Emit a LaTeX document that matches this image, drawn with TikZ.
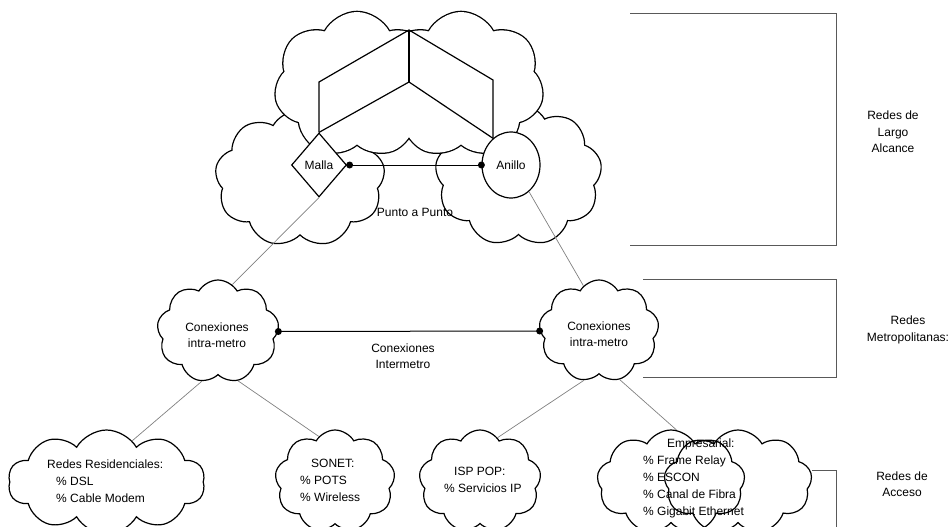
\documentclass[tikz,border=0pt]{standalone}
\usepackage{fontspec}
\setmainfont{Liberation Sans}
\usetikzlibrary{shapes.symbols,shapes.geometric}
\begin{document}
\begin{tikzpicture}[x=1pt,y=-1pt,
  every node/.style={font=\fontsize{12}{16.5}\selectfont, inner sep=0pt},
  puff/.style={cloud, cloud puffs=#1, cloud puff arc=120, cloud ignores aspect,
               draw=black, line width=1.2pt, fill=white},
  puff/.default=9,
  backbone/.style={cloud, cloud puffs=7, cloud puff arc=125, cloud ignores aspect,
                   minimum width=165, minimum height=146},
  cube/.style={black, line width=1.2pt},
  link/.style={black, line width=1pt},
  feeder/.style={gray, line width=0.7pt},
  dot/.style={circle, fill=black, minimum size=7pt},
  bracket/.style={black!65, line width=0.9pt},
  itemlist/.style={align=left, anchor=north west, font=\fontsize{12}{17}\selectfont}
]
\path[use as bounding box] (0,0) rectangle (951,527);
\clip (0,0) rectangle (951,527);

% metropolitan clouds holding the two core topologies
\node[puff, minimum width=170, minimum height=137] (midL) at (300,178.5) {};
\node[puff, minimum width=167, minimum height=142] (midR) at (518.5,175) {};

% twin backbone cloud: thick outlines first, then a white fill keeps only the outer contour
\node[backbone, draw=black, line width=2.6pt] (topL) at (357,85) {};
\node[backbone, draw=black, line width=2.6pt] (topR) at (461,85) {};
\node[backbone, fill=white] (topLf) at (357,85) {};
\node[backbone, fill=white] (topRf) at (461,85) {};

% mesh and ring
\node[diamond, draw, line width=1.2pt, fill=white, minimum width=55, minimum height=64] (malla) at (319,165) {Malla};
\node[ellipse, draw, line width=1.2pt, fill=white, minimum width=58, minimum height=66] (anillo) at (511,165) {Anillo};

% cube-like backbone outline
\coordinate (cT) at (409,30);
\coordinate (cL) at (319,82);
\coordinate (cC) at (409,82);
\coordinate (cR) at (493,80);
\draw[cube] (malla.north) -- (cL) -- (cT) -- (cR) -- (anillo.124);
\draw[cube] (cT) -- (cC);
\draw[cube] (malla.north) -- (cC) -- (anillo.124);

% point-to-point link
\draw[link] (malla.east) -- (anillo.west);
\node[dot] (dM) at ([xshift=2.5pt]malla.east) {};
\node[dot] (dA) at (anillo.west) {};
\node (ptp) at (415,212) {Punto a Punto};

% intra-metro clouds
\node[puff, minimum width=122, minimum height=103] (intraL) at (218,331.5) {};
\node[puff, minimum width=120, minimum height=102] (intraR) at (599,331) {};
\node[align=center] (intraLt) at (217,335) {Conexiones\\intra-metro};
\node[align=center] (intraRt) at (599,334) {Conexiones\\intra-metro};

% inter-metro link
\draw[link] (intraL.east) -- (intraR.west);
\node[dot] (dIL) at (intraL.east) {};
\node[dot] (dIR) at (intraR.west) {};
\node[align=center] (intermetro) at (403,356) {Conexiones\\Intermetro};

% access clouds
\node[puff=10, minimum width=197, minimum height=104] (res) at (106.5,482) {};
\node[puff, minimum width=120, minimum height=102] (sonet) at (335,481) {};
\node[puff, minimum width=122, minimum height=102] (isp) at (480,481) {};
\node[puff, fill=none, minimum width=148, minimum height=104] (empL) at (671,482) {};
\node[puff, fill=none, minimum width=148, minimum height=104] (empR) at (738,482) {};

\node[itemlist] (rest) at (47,459.5) {Redes Residenciales:\\\hspace*{9pt}\% DSL\\\hspace*{9pt}\% Cable Modem};
\node[itemlist] (sonett) at (300,458.5) {\hspace*{11pt}SONET:\\\% POTS\\\% Wireless};
\node[itemlist] (ispt) at (444,466.5) {\hspace*{10pt}ISP POP:\\\% Servicios IP};
\node[itemlist] (empt) at (643,438.5) {\hspace*{24pt}Empresarial:\\\% Frame Relay\\\% ESCON\\\% Canal de Fibra\\\% Gigabit Ethernet};

% feeder links between levels
\draw[feeder] (malla.south) -- (intraL.73);
\draw[feeder] (anillo.-56) -- (intraR.109);
\draw[feeder] (intraL.-108) -- (res.58);
\draw[feeder] (intraL.-68) -- (sonet.110);
\draw[feeder] (intraR.-107) -- (isp.68);
\draw[feeder] (intraR.-67) -- (empL.84);

% level brackets and labels
\draw[bracket] (630,13) -- (836,13) -- (836,245) -- (630,245);
\draw[bracket] (643,279) -- (836,279) -- (836,377) -- (643,377);
\draw[bracket] (812,470) -- (836,470) -- (836,530);
\node[align=center] (lblWAN) at (893,132) {Redes de\\Largo\\Alcance};
\node[align=center] (lblMAN) at (908,330) {Redes\\Metropolitanas:};
\node[align=center] (lblAcc) at (902,484) {Redes de\\Acceso};
\end{tikzpicture}
\end{document}
